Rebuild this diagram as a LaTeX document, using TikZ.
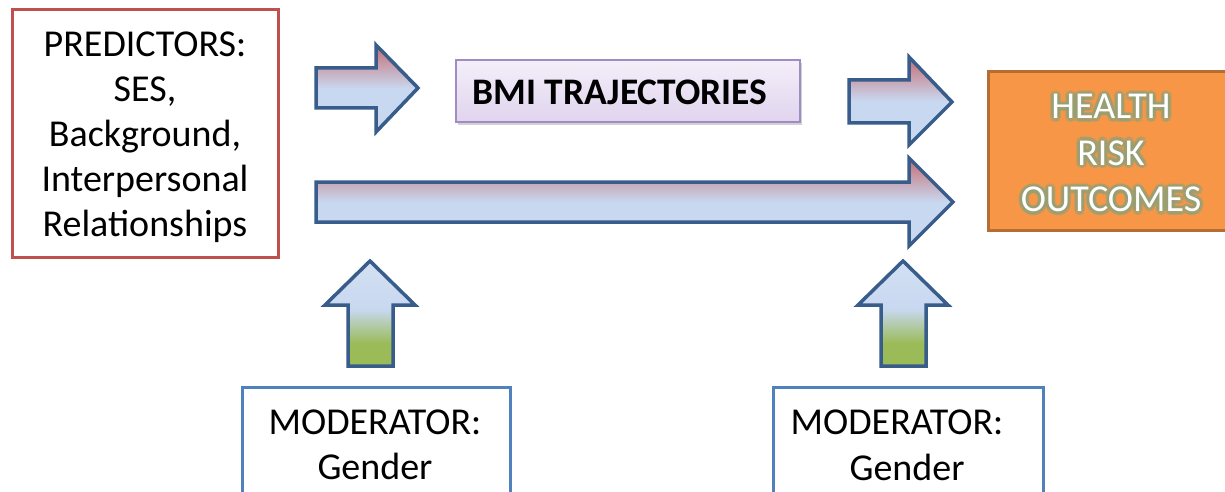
\documentclass[tikz,border=0pt]{standalone}
\usepackage{fontspec}
\setmainfont{Carlito}
\usetikzlibrary{shadows}
\definecolor{predred}{RGB}{192,80,77}
\definecolor{arrblue}{RGB}{56,93,138}
\definecolor{lblue}{RGB}{200,216,240}
\definecolor{tred}{RGB}{198,108,114}
\definecolor{tgreen}{RGB}{155,187,89}
\definecolor{bmitop}{RGB}{244,239,249}
\definecolor{bmibot}{RGB}{224,212,238}
\definecolor{bmiborder}{RGB}{160,140,196}
\definecolor{orfill}{RGB}{247,150,70}
\definecolor{orborder}{RGB}{182,109,49}
\definecolor{modblue}{RGB}{79,129,189}
\definecolor{glowc}{RGB}{148,160,118}
\pgfdeclareverticalshading{hshade}{100bp}{color(0bp)=(lblue); color(50bp)=(lblue); color(75bp)=(tred); color(100bp)=(tred)}
\pgfdeclareverticalshading{vshade}{100bp}{color(0bp)=(tgreen); color(36bp)=(tgreen); color(52bp)=(lblue); color(75bp)=(lblue!80!white); color(100bp)=(lblue!80!white)}
\tikzset{
  bigtext/.style={font=\fontsize{38}{45}\selectfont, align=center, inner sep=0pt},
  blockarrow/.style={draw=arrblue, line width=3.5pt, line join=miter},
  harrow/.style={blockarrow, shading=hshade},
  varrow/.style={blockarrow, shading=vshade},
  glowtext/.style={font=\fontsize{38}{46.5}\selectfont, align=center, inner sep=0pt},
}
\begin{document}
\begin{tikzpicture}[x=1pt,y=-1pt]
\useasboundingbox (0,0) rectangle (1225,492);
\clip (0,0) rectangle (1225,492);
\fill[white] (0,0) rectangle (1225,492);

% Predictors box
\draw[predred, line width=3pt] (12,10) rectangle (278,257);
\node[bigtext] (pred) at (145,137) {PREDICTORS:\\SES,\\Background,\\Interpersonal\\Relationships};

% BMI box
\draw[bmiborder, line width=1.5pt, top color=bmitop, bottom color=bmibot,
      drop shadow={shadow xshift=1.5pt, shadow yshift=-3pt, opacity=0.35}] (456,60) rectangle (800,122);
\node[font=\bfseries\fontsize{37.5}{40}\selectfont, inner sep=0pt] (bmi) at (620,92) {BMI TRAJECTORIES};

% Health box
\draw[orborder, line width=3pt, fill=orfill] (988,72) rectangle (1250,230);
\foreach \a in {0,45,...,315}{
  \node[glowtext, text=glowc, opacity=0.6] at ([shift={(\a:3.5)}]1111,153) {HEALTH\\RISK\\OUTCOMES};
}
\node[glowtext, text=white] (health) at (1111,153) {HEALTH\\RISK\\OUTCOMES};

% Moderator boxes
\draw[modblue, line width=3pt] (242,387) rectangle (510,510);
\node[bigtext] (mod1) at (375,445) {MODERATOR:\\Gender};
\draw[modblue, line width=3pt] (773,387) rectangle (1043,510);
\node[bigtext] (mod2a) at (897,422) {MODERATOR:};
\node[bigtext] (mod2b) at (907,467) {Gender};

% Horizontal arrows
\draw[harrow] (316,68) -- (376,68) -- (376,45) -- (418,88) -- (376,132) -- (376,108) -- (316,108) -- cycle;
\draw[harrow] (849,80) -- (909,80) -- (909,57) -- (952,102) -- (909,145) -- (909,123) -- (849,123) -- cycle;
\draw[harrow] (316,182) -- (909,182) -- (909,158) -- (953,202) -- (909,246) -- (909,222) -- (316,222) -- cycle;

% Vertical arrows
\draw[varrow] (348,366) -- (348,305) -- (325,305) -- (370,261) -- (415,305) -- (393,305) -- (393,366) -- cycle;
\draw[varrow] (881,366) -- (881,305) -- (858,305) -- (903,261) -- (948,305) -- (926,305) -- (926,366) -- cycle;
\end{tikzpicture}
\end{document}
